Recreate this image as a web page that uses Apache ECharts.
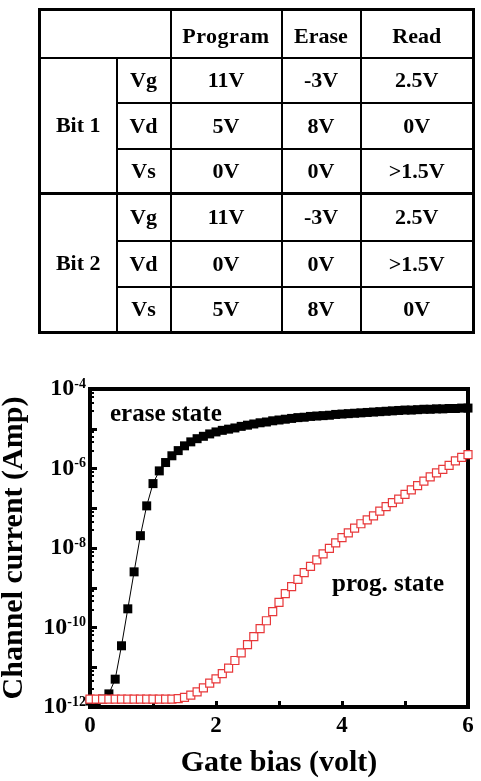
<!DOCTYPE html>
<html>
<head>
<meta charset="utf-8">
<title>Bit operation bias and Id-Vg</title>
<script src="https://cdn.jsdelivr.net/npm/echarts@6/dist/echarts.min.js"></script>
<style>
  body { margin: 0; background: #fff; }
  #main { position: absolute; left: 0; top: 0; width: 481px; height: 781px; }
  table.bias {
    position: absolute; left: 38px; top: 8px;
    border-collapse: collapse; table-layout: fixed;
    font: bold 22px 'Liberation Serif', serif; text-align: center;
    border: 3px solid #000;
  }
  table.bias td { border: 2px solid #000; padding: 0; }
  table.bias tr.sep td { border-top: 3px solid #000; }
  table.bias tr.head td { padding-top: 4px; }
</style>
</head>
<body>
<div id="main"></div>
<table class="bias">
  <colgroup>
    <col style="width:77px"><col style="width:54px"><col style="width:111px"><col style="width:79px"><col style="width:113px">
  </colgroup>
  <tr class="head" style="height:48px"><td colspan="2"></td><td style="letter-spacing:0.5px">Program</td><td>Erase</td><td>Read</td></tr>
  <tr style="height:45px"><td rowspan="3">Bit 1</td><td>Vg</td><td>11V</td><td>-3V</td><td>2.5V</td></tr>
  <tr style="height:46px"><td>Vd</td><td>5V</td><td>8V</td><td>0V</td></tr>
  <tr style="height:45px"><td>Vs</td><td>0V</td><td>0V</td><td>&gt;1.5V</td></tr>
  <tr class="sep" style="height:47px"><td rowspan="3">Bit 2</td><td>Vg</td><td>11V</td><td>-3V</td><td>2.5V</td></tr>
  <tr style="height:46px"><td>Vd</td><td>0V</td><td>0V</td><td>&gt;1.5V</td></tr>
  <tr style="height:46px"><td>Vs</td><td>5V</td><td>8V</td><td>0V</td></tr>
</table>
<script>
// gate bias (V), shared by both curves
var gateV = [0, 0.1, 0.2, 0.3, 0.4, 0.5, 0.6, 0.7, 0.8, 0.9,
  1.0, 1.1, 1.2, 1.3, 1.4, 1.5, 1.6, 1.7, 1.8, 1.9,
  2.0, 2.1, 2.2, 2.3, 2.4, 2.5, 2.6, 2.7, 2.8, 2.9,
  3.0, 3.1, 3.2, 3.3, 3.4, 3.5, 3.6, 3.7, 3.8, 3.9,
  4.0, 4.1, 4.2, 4.3, 4.4, 4.5, 4.6, 4.7, 4.8, 4.9,
  5.0, 5.1, 5.2, 5.3, 5.4, 5.5, 5.6, 5.7, 5.8, 5.9, 6.0];

// log10 of channel current (A)
var eraseLogI = [-11.85, -11.85, -11.8, -11.67, -11.30, -10.46, -9.53, -8.60, -7.69, -6.94,
  -6.38, -6.06, -5.85, -5.68, -5.55, -5.43, -5.33, -5.25, -5.19, -5.13,
  -5.08, -5.04, -5.01, -4.98, -4.94, -4.91, -4.88, -4.85, -4.83, -4.80,
  -4.78, -4.76, -4.74, -4.72, -4.71, -4.69, -4.68, -4.67, -4.66, -4.64,
  -4.63, -4.62, -4.61, -4.60, -4.59, -4.58, -4.57, -4.56, -4.55, -4.54,
  -4.53, -4.53, -4.52, -4.51, -4.51, -4.50, -4.50, -4.49, -4.49, -4.48, -4.48];

var progLogI = [-11.80, -11.80, -11.80, -11.80, -11.80, -11.80, -11.80, -11.80, -11.80, -11.80,
  -11.80, -11.80, -11.80, -11.80, -11.79, -11.76, -11.70, -11.62, -11.52, -11.40,
  -11.29, -11.16, -11.02, -10.83, -10.64, -10.43, -10.23, -10.03, -9.83, -9.60,
  -9.37, -9.15, -8.97, -8.79, -8.62, -8.46, -8.30, -8.15, -8.01, -7.87,
  -7.74, -7.62, -7.50, -7.39, -7.29, -7.19, -7.07, -6.96, -6.86, -6.77,
  -6.65, -6.54, -6.43, -6.32, -6.21, -6.11, -6.02, -5.92, -5.81, -5.72, -5.65];

var xTickLabels = ['0', '', '2', '', '4', '', '6'];

var serif = 'Liberation Serif';

function pairs(logs) {
  return gateV.map(function (v, i) { return [v, Math.pow(10, logs[i])]; });
}

var chart = echarts.init(document.getElementById('main'));
chart.setOption({
  animation: false,
  grid: {
    left: 90, right: 13, top: 389, bottom: 74,
    containLabel: false, outerBoundsMode: 'none',
    show: true, borderColor: '#000', borderWidth: 4
  },
  xAxis: {
    type: 'value', min: 0, max: 6, interval: 1,
    name: 'Gate bias (volt)', nameLocation: 'middle', nameGap: 41,
    nameTextStyle: { fontFamily: serif, fontWeight: 'bold', fontSize: 30, color: '#000' },
    axisLine: { show: true, lineStyle: { color: '#000', width: 4 } },
    axisTick: { show: true, inside: true, length: 6, lineStyle: { color: '#000', width: 3 } },
    splitLine: { show: false },
    axisLabel: {
      margin: 8, fontFamily: serif, fontWeight: 'bold', fontSize: 23, color: '#000',
      formatter: function (v) { return xTickLabels[Math.round(v)]; }
    }
  },
  yAxis: {
    type: 'log', logBase: 10, min: 1e-12, max: 1e-4,
    name: 'Channel current (Amp)', nameLocation: 'middle', nameGap: 61, nameRotate: 90,
    nameTextStyle: { fontFamily: serif, fontWeight: 'bold', fontSize: 30, color: '#000' },
    axisLine: { show: true, lineStyle: { color: '#000', width: 4 } },
    axisTick: { show: true, inside: true, length: 7, lineStyle: { color: '#000', width: 3 } },
    minorTick: { show: true, splitNumber: 5, length: 4, lineStyle: { color: '#000', width: 2 } },
    splitLine: { show: false },
    minorSplitLine: { show: false },
    axisLabel: {
      margin: 4,
      formatter: function (v) {
        var e = Math.round(Math.log10(v));
        if (e % 2 !== 0) return '';
        return '{b|10}{s|' + e + '}';
      },
      rich: {
        b: { fontFamily: serif, fontWeight: 'bold', fontSize: 24, color: '#000', lineHeight: 24 },
        s: { fontFamily: serif, fontWeight: 'bold', fontSize: 14, color: '#000', verticalAlign: 'top' }
      }
    }
  },
  graphic: [
    { type: 'text', left: 110, top: 402,
      style: { text: 'erase state', fontFamily: serif, fontWeight: 'bold', fontSize: 25, fill: '#000' } },
    { type: 'text', left: 332, top: 572,
      style: { text: 'prog. state', fontFamily: serif, fontWeight: 'bold', fontSize: 25, fill: '#000' } }
  ],
  series: [
    {
      name: 'erase state', type: 'line', data: pairs(eraseLogI),
      symbol: 'rect', symbolSize: 9, showAllSymbol: true,
      lineStyle: { color: '#000', width: 1 },
      itemStyle: { color: '#000' }
    },
    {
      name: 'prog. state', type: 'line', data: pairs(progLogI),
      symbol: 'rect', symbolSize: 8, showAllSymbol: true,
      lineStyle: { width: 0, opacity: 0 },
      itemStyle: { color: '#fff', borderColor: '#e8383a', borderWidth: 1.2 }
    }
  ]
});
</script>
</body>
</html>
